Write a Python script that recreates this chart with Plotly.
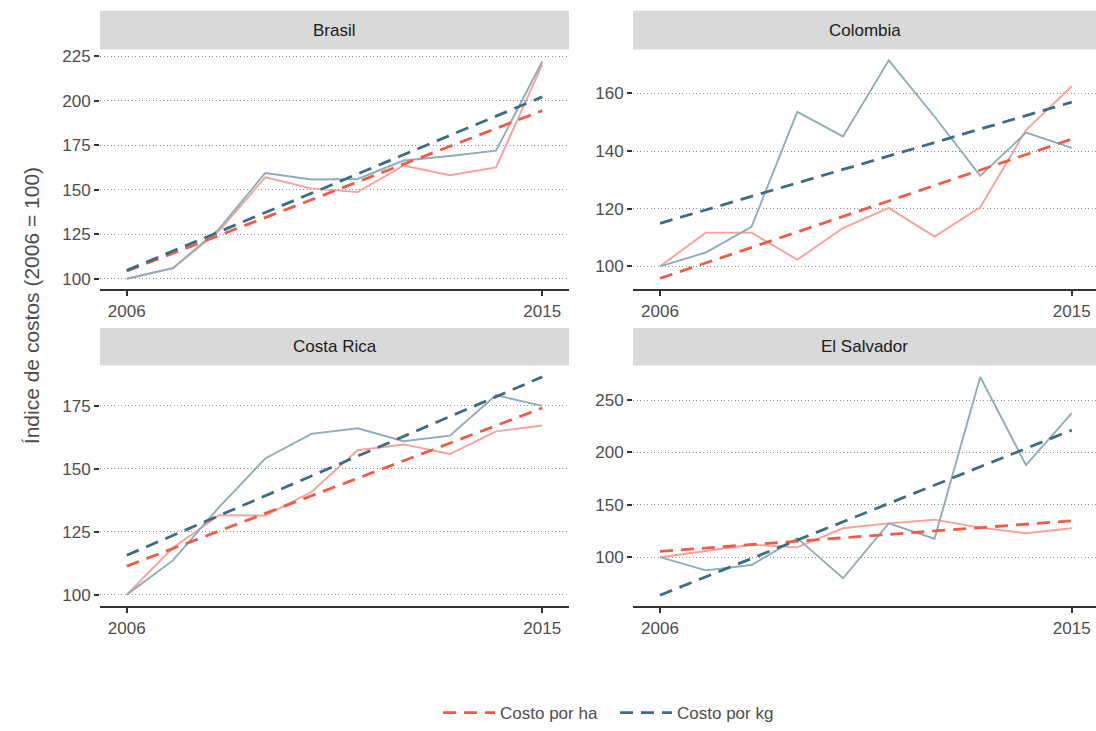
import numpy as np
import plotly.graph_objects as go

# Años de la serie
years = list(range(2006, 2016))

# Índices de costos (2006 = 100) por país
paises = ["Brasil", "Colombia", "Costa Rica", "El Salvador"]

brasil_ha = [100, 105.9, 127, 157, 150.8, 148.7, 163.7, 158.2, 162.6, 220.4]
brasil_kg = [100, 105.9, 128, 159.5, 155.8, 156.1, 166.5, 169, 172, 222.2]

colombia_ha = [100, 111.7, 111.7, 102.3, 113.3, 120.3, 110.3, 120.5, 147.3, 162.5]
colombia_kg = [100, 104.8, 113.7, 153.6, 145.1, 171.5, 152, 131.4, 146.4, 141.1]

costarica_ha = [100, 118.6, 131.6, 131.4, 140.8, 157.4, 159.7, 155.9, 164.9, 167.2]
costarica_kg = [100, 113.6, 134.8, 154.1, 163.9, 166.1, 161.0, 163.2, 179.3, 175]

elsalvador_ha = [100, 105.6, 111.9, 109.4, 127.6, 132.3, 135.8, 128.2, 122.9, 127.6]
elsalvador_kg = [100, 87.4, 92.5, 118.2, 79.9, 132.3, 117.6, 272, 187.9, 237.4]

series_ha = [brasil_ha, colombia_ha, costarica_ha, elsalvador_ha]
series_kg = [brasil_kg, colombia_kg, costarica_kg, elsalvador_kg]

# Marcas del eje y de cada panel
y_ticks = [
    [100, 125, 150, 175, 200, 225],
    [100, 120, 140, 160],
    [100, 125, 150, 175],
    [100, 150, 200, 250],
]
y_ranges = [[94, 229], [92, 175.3], [95.3, 191.1], [53, 283]]
x_ranges = [[2005.42, 2015.58], [2005.41, 2015.53], [2005.42, 2015.58], [2005.41, 2015.53]]

nombres = ["Costo por ha", "Costo por kg"]
color_linea = ["#F6A29A", "#8EACBA"]
color_tend = ["#EE5C47", "#3E6C82"]

FONT = "Liberation Sans, Arial, sans-serif"
W, H = 1096, 731

# Posición de cada panel (píxeles de la página)
x_dom = [[100 / W, 569 / W], [633 / W, 1.0], [100 / W, 569 / W], [633 / W, 1.0]]
y_dom = [[1 - 293 / H, 1 - 50 / H], [1 - 293 / H, 1 - 50 / H],
         [1 - 614 / H, 1 - 370 / H], [1 - 614 / H, 1 - 370 / H]]
strip_top = [1 - 11 / H, 1 - 11 / H, 1 - 332 / H, 1 - 332 / H]

fig = go.Figure()
x_np = np.array(years, dtype=float)

for i, pais in enumerate(paises):
    sfx = "" if i == 0 else str(i + 1)
    xa, ya = "x" + sfx, "y" + sfx
    datos = [series_ha[i], series_kg[i]]
    # líneas observadas
    for k in range(2):
        fig.add_trace(go.Scatter(
            x=years, y=datos[k], mode="lines", xaxis=xa, yaxis=ya,
            line=dict(color=color_linea[k], width=1.9),
            showlegend=False, legendgroup=nombres[k], hoverinfo="skip"))
    # tendencia lineal (mínimos cuadrados)
    for k in range(2):
        b, a = np.polyfit(x_np, np.array(datos[k], dtype=float), 1)
        fig.add_trace(go.Scatter(
            x=[years[0], years[-1]], y=[a + b * years[0], a + b * years[-1]],
            mode="lines", xaxis=xa, yaxis=ya,
            line=dict(color=color_tend[k], width=2.8, dash="13px,8px"),
            name=nombres[k], legendgroup=nombres[k],
            showlegend=(i == 0)))

    common_axis = dict(automargin=False, zeroline=False)
    fig.layout["xaxis" + sfx] = dict(
        domain=x_dom[i], anchor=ya, range=x_ranges[i],
        tickvals=[2006, 2015], ticktext=["2006", "2015"],
        showgrid=False, showline=True, linecolor="#333333", linewidth=1.8,
        ticks="outside", ticklen=5, tickwidth=1.8, tickcolor="#333333",
        tickfont=dict(family=FONT, size=17, color="#4D4D4D"), **common_axis)
    fig.layout["yaxis" + sfx] = dict(
        domain=y_dom[i], anchor=xa, range=y_ranges[i],
        tickvals=y_ticks[i],
        showgrid=True, gridcolor="#8C8C8C", gridwidth=1, griddash="1px,2.5px",
        showline=False,
        ticks="outside", ticklen=5, tickwidth=1.8, tickcolor="#333333",
        tickfont=dict(family=FONT, size=17, color="#4D4D4D"), **common_axis)

    # franja con el nombre del país
    fig.add_shape(type="rect", xref="paper", yref="paper",
                  x0=x_dom[i][0], x1=x_dom[i][1],
                  y0=y_dom[i][1], y1=strip_top[i],
                  fillcolor="#D9D9D9", line=dict(width=0), layer="below")
    fig.add_annotation(x=(x_dom[i][0] + x_dom[i][1]) / 2,
                       y=(y_dom[i][1] + strip_top[i]) / 2,
                       xref="paper", yref="paper", text=pais, showarrow=False,
                       font=dict(family=FONT, size=17, color="#1A1A1A"),
                       xanchor="center", yanchor="middle")

fig.add_annotation(x=31 / W, y=1 - 310 / H, xref="paper", yref="paper",
                   text="Índice de costos (2006 = 100)", textangle=-90,
                   showarrow=False, xanchor="center", yanchor="middle",
                   font=dict(family=FONT, size=21, color="#4D4D4D"))

fig.update_layout(
    width=W, height=H,
    margin=dict(l=0, r=0, t=0, b=0),
    paper_bgcolor="white", plot_bgcolor="white",
    font=dict(family=FONT, color="#4D4D4D"),
    legend=dict(orientation="h", x=438 / W, y=1 - 722 / H,
                xanchor="left", yanchor="middle",
                itemwidth=52, entrywidth=110, entrywidthmode="pixels",
                font=dict(family=FONT, size=17, color="#4D4D4D"),
                bgcolor="rgba(0,0,0,0)"),
)

fig.write_html("out.html")
